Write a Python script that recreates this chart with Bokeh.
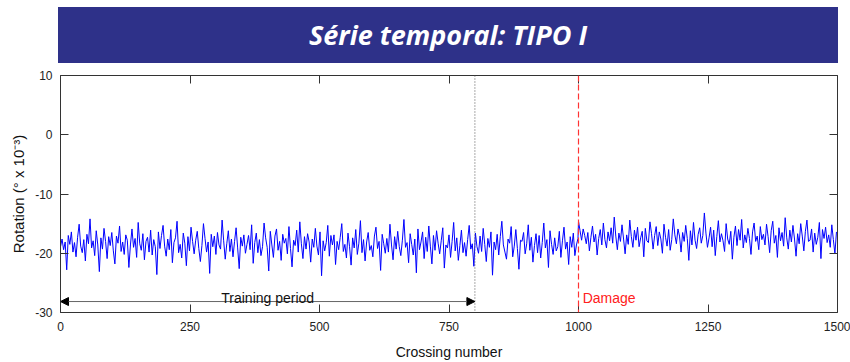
import numpy as np
from bokeh.plotting import figure
from bokeh.models import (Div, Column, LinearAxis, FixedTicker, Span, Arrow,
                          NormalHead, Label, Range1d, Title)
from bokeh.embed import file_html
from bokeh.resources import INLINE

# Rotation readings (° x 10^-3), one every third crossing
pre_damage = [
    -18.9, -17.6, -19.4, -18.1, -22.8, -17.0, -18.5, -16.4, -19.8, -18.2, -20.6, -17.3, -15.1, -18.8, -19.9, -17.7, -21.3, -16.8, -18.4, -14.2,
    -19.1, -17.9, -20.4, -16.2, -18.6, -23.1, -17.4, -19.3, -15.8, -18.0, -20.9, -17.2, -18.7, -16.5, -19.6, -21.8, -17.1, -18.3, -15.4, -19.7,
    -18.1, -20.2, -16.9, -17.8, -22.4, -18.6, -15.9, -19.0, -17.5, -20.7, -14.8, -18.4, -19.5, -16.7, -21.1, -18.0, -17.3, -19.8, -16.1, -20.3,
    -17.7, -18.9, -23.6, -16.4, -19.2, -17.0, -15.3, -18.8, -20.5, -17.6, -19.4, -16.0, -21.6, -18.2, -17.4, -14.6, -19.9, -18.5, -20.8, -16.6,
    -18.3, -22.1, -17.2, -19.6, -15.6, -18.0, -20.1, -17.8, -16.3, -19.2, -21.4, -18.7, -15.0, -17.5, -19.8, -18.1, -23.4, -16.8, -18.9, -17.1,
    -20.2, -16.5, -18.6, -19.3, -14.4, -17.9, -21.0, -18.4, -16.2, -19.7, -17.6, -20.6, -18.0, -15.7, -19.1, -22.6, -17.3, -18.8, -16.9, -20.0,
    -18.5, -17.0, -19.4, -15.2, -21.7, -18.2, -16.6, -19.9, -17.7, -20.4, -18.9, -14.9, -17.4, -19.0, -23.0, -16.3, -18.6, -20.7, -17.1, -15.9,
    -19.5, -18.0, -21.2, -16.8, -18.3, -17.5, -20.1, -15.5, -19.2, -22.3, -17.8, -18.7, -16.1, -19.8, -14.7, -18.4, -20.9, -17.2, -19.3, -16.7,
    -18.1, -21.5, -17.6, -19.0, -15.8, -18.8, -20.3, -16.4, -23.8, -17.9, -19.6, -18.2, -15.3, -20.5, -17.0, -18.6, -16.9, -21.9, -18.0, -19.4,
    -17.3, -15.0, -19.7, -18.5, -20.8, -16.6, -18.9, -22.0, -17.4, -19.1, -16.0, -20.2, -18.3, -14.5, -19.9, -17.7, -21.3, -18.1, -16.5, -19.5,
    -18.7, -20.6, -17.1, -15.6, -19.2, -18.0, -22.9, -16.8, -18.4, -20.0, -17.5, -19.8, -15.1, -18.6, -21.1, -17.2, -19.3, -16.3, -18.9, -20.4,
    -17.8, -14.3, -19.0, -18.2, -21.6, -16.7, -18.5, -20.3, -17.6, -23.3, -15.9, -19.4, -18.1, -16.4, -20.9, -17.3, -19.7, -15.4, -18.8, -21.8,
    -17.0, -19.5, -16.2, -18.3, -20.1, -17.9, -15.7, -22.5, -18.6, -19.1, -16.9, -20.7, -18.0, -14.8, -19.6, -17.4, -21.2, -18.7, -16.1, -19.9,
    -18.2, -20.5, -17.7, -15.3, -19.3, -18.4, -22.2, -16.6, -18.9, -20.0, -17.1, -19.7, -15.8, -18.5, -21.4, -17.5, -19.0, -16.4, -23.7, -18.1,
    -19.4, -16.8, -20.3, -17.2, -14.6, -18.6, -19.8, -21.0, -17.6, -18.3, -15.5, -20.6, -18.8, -16.0, -19.2, -22.7, -17.8, -18.0, -16.5, -20.1,
    -18.4, -15.2, -19.5, -17.3, -21.5, -18.7, -16.7, -19.9, -17.0, -20.8, -18.2, -14.9, -19.1, -17.7, -22.4, -16.2, -18.5, -20.2, -17.4, -19.6,
    -18.9, -16.3, -20.7, -17.9, -15.6, -19.3, -18.1, -21.9, -17.2, -19.0, -16.6, -20.4, -18.6, -17.5,
]
post_damage = [
    -14.6, -16.2, -17.8, -15.9, -17.0, -18.4, -16.5, -19.6, -17.3, -15.4, -18.1, -16.8, -20.3, -17.5, -16.0, -18.6, -14.9, -17.7, -19.1, -16.4,
    -17.9, -15.7, -18.3, -13.9, -17.1, -19.4, -16.6, -18.0, -15.2, -17.6, -20.1, -16.9, -18.5, -14.4, -17.2, -19.0, -16.1, -17.8, -15.6, -18.9,
    -17.4, -16.3, -20.6, -15.8, -17.9, -18.2, -14.7, -16.7, -19.3, -17.0, -15.5, -18.7, -16.4, -17.6, -20.0, -15.1, -17.3, -18.8, -16.0, -19.5,
    -17.7, -14.2, -16.9, -18.4, -15.9, -17.1, -19.8, -16.5, -18.0, -15.3, -17.5, -21.2, -16.2, -18.6, -14.8, -17.8, -19.2, -16.8, -15.7, -18.3,
    -17.0, -13.2, -16.6, -19.0, -17.4, -15.6, -18.9, -16.1, -20.4, -17.2, -14.5, -18.1, -16.7, -17.9, -19.7, -15.0, -17.6, -18.5, -16.3, -21.0,
    -17.3, -15.4, -18.7, -16.0, -17.8, -14.3, -19.1, -16.9, -18.2, -15.8, -17.5, -20.2, -16.4, -14.9, -18.0, -17.1, -19.4, -15.5, -17.7, -16.8,
    -18.6, -15.1, -17.2, -19.9, -16.2, -14.6, -18.3, -17.0, -20.7, -15.7, -17.9, -16.5, -18.8, -14.0, -17.4, -19.3, -16.1, -18.1, -15.3, -17.6,
    -20.5, -16.7, -18.4, -15.0, -17.1, -19.6, -16.3, -14.4, -18.0, -17.8, -15.9, -19.8, -16.6, -18.5, -17.3, -14.8, -20.9, -16.0, -17.5, -15.6,
    -18.2, -16.9, -19.0, -15.2, -17.7, -20.1, -16.4,
]
sample_step = 3
training_end = 800
damage_at = 1000
x_ticks = [0, 250, 500, 750, 1000, 1250, 1500]
y_ticks = [-30, -20, -10, 0, 10]

crossing = np.concatenate([np.arange(0, damage_at, sample_step),
                           np.arange(damage_at, 1500, sample_step)])
rotation = np.array(pre_damage + post_damage)

FONT = "Liberation Sans"
AXIS_GREY = "#333333"

banner = Div(
    text=('<div style="width:780px;height:56px;line-height:56px;text-align:center;'
          'color:white;font-family:\'Open Sans\';font-style:italic;font-weight:700;'
          'font-size:27px;background:#2e3189;">Série temporal: TIPO I</div>'),
    width=780, height=56, margin=(7, 0, 0, 58),
)

p = figure(width=850, height=299, output_backend="svg", toolbar_location=None,
           x_range=Range1d(0, 1500), y_range=Range1d(-30, 10),
           x_axis_label="Crossing number",
           min_border_left=60, min_border_right=13, min_border_top=12,
           min_border_bottom=49)
p.grid.visible = False
p.outline_line_color = None
p.background_fill_color = "white"
p.border_fill_color = "white"

bottom_axis = p.below[0]
left_axis = p.left[0]

# Box frame: tick marks on the top and right edges, without labels
top_axis = LinearAxis(ticker=FixedTicker(ticks=x_ticks),
                      major_label_overrides={t: "" for t in x_ticks})
right_axis = LinearAxis(ticker=FixedTicker(ticks=y_ticks),
                        major_label_overrides={t: "" for t in y_ticks})
p.add_layout(top_axis, "above")
p.add_layout(right_axis, "right")

bottom_axis.ticker = FixedTicker(ticks=x_ticks)
left_axis.ticker = FixedTicker(ticks=y_ticks)
left_axis.major_label_overrides = {t: str(t) for t in y_ticks}

for ax in (bottom_axis, left_axis, top_axis, right_axis):
    ax.major_tick_in = 8
    ax.major_tick_out = 0
    ax.minor_tick_line_color = None
    ax.axis_line_color = AXIS_GREY
    ax.major_tick_line_color = AXIS_GREY
    ax.major_label_text_font = FONT
    ax.major_label_text_font_size = "12px"
    ax.major_label_text_color = "#222222"
    ax.axis_label_text_font = FONT
    ax.axis_label_text_font_size = "14px"
    ax.axis_label_text_font_style = "normal"
    ax.axis_label_text_color = "#111111"

for ax in (top_axis, right_axis):
    ax.major_label_standoff = 0

bottom_axis.major_label_standoff = 9
bottom_axis.axis_label_standoff = 10
left_axis.major_label_standoff = 8

# y-axis title as a side title
p.add_layout(Title(text="Rotation (° x 10⁻³)", align="center",
                   text_font=FONT, text_font_size="15px", text_font_style="normal",
                   text_color="#111111", standoff=12), "left")

p.line(crossing, rotation, line_color="#0000ff", line_width=1)

p.add_layout(Span(location=training_end, dimension="height", line_color="#555555",
                  line_dash="1 2", line_width=1))
p.add_layout(Span(location=damage_at, dimension="height", line_color="#ff3333",
                  line_dash="6 3", line_width=1.2))

arrow_y = -28.15
p.add_layout(Arrow(x_start=0, y_start=arrow_y, x_end=training_end, y_end=arrow_y,
                   line_color="#666666", line_width=1,
                   start=NormalHead(size=8, fill_color="black", line_color="black"),
                   end=NormalHead(size=8, fill_color="black", line_color="black")))

p.add_layout(Label(x=training_end / 2, y=-27.6, text="Training period",
                   text_align="center", text_baseline="alphabetic",
                   text_font=FONT, text_font_size="14px", text_color="#111111"))
p.add_layout(Label(x=damage_at + 8, y=-27.6, text="Damage",
                   text_align="left", text_baseline="alphabetic",
                   text_font=FONT, text_font_size="14px", text_color="#ff2020"))

layout = Column(banner, p, spacing=0)
open("out.html", "w").write(file_html(layout, INLINE))
